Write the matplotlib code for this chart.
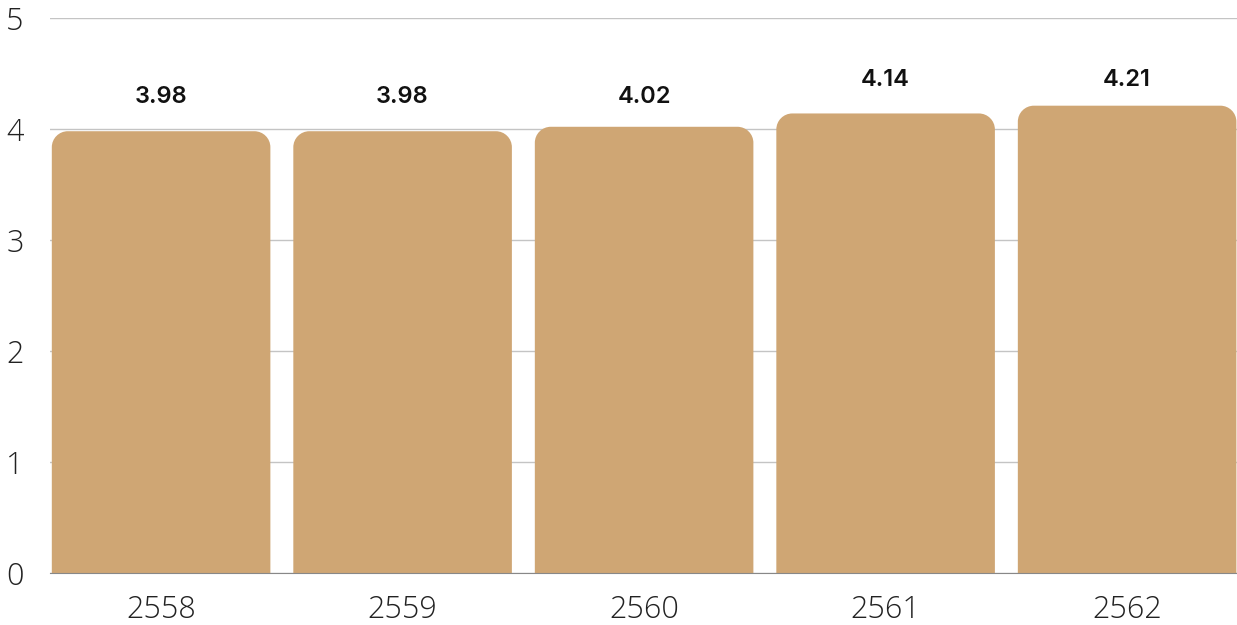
import matplotlib.pyplot as plt
from matplotlib.path import Path
from matplotlib.patches import PathPatch

years = ['2558', '2559', '2560', '2561', '2562']
values = [3.98, 3.98, 4.02, 4.14, 4.21]
value_labels = ['3.98', '3.98', '4.02', '4.14', '4.21']

bar_color = '#cfa674'
bar_width = 0.905
# label heights as seen in the original (labels snap to two rows)
label_y = [4.29, 4.29, 4.29, 4.44, 4.44]

fig = plt.figure(figsize=(12.37, 6.25), dpi=100)
ax = fig.add_axes([50 / 1237, 52 / 625, 1187 / 1237, 555 / 625])
ax.set_xlim(-0.46, 4.455)
ax.set_ylim(0, 5)

# rounded top corners, radius in data units (about 16 px)
rx = 16 / 241.5
ry = 16 / 111
k = 0.5523


def rounded_bar(x0, x1, h):
    verts = [
        (x0, 0), (x0, h - ry),
        (x0, h - ry + k * ry), (x0 + rx - k * rx, h), (x0 + rx, h),
        (x1 - rx, h),
        (x1 - rx + k * rx, h), (x1, h - ry + k * ry), (x1, h - ry),
        (x1, 0), (x0, 0),
    ]
    codes = [Path.MOVETO, Path.LINETO,
             Path.CURVE4, Path.CURVE4, Path.CURVE4,
             Path.LINETO,
             Path.CURVE4, Path.CURVE4, Path.CURVE4,
             Path.LINETO, Path.CLOSEPOLY]
    return Path(verts, codes)


for i, v in enumerate(values):
    p = rounded_bar(i - bar_width / 2, i + bar_width / 2, v)
    ax.add_patch(PathPatch(p, facecolor=bar_color, edgecolor='none', zorder=2))
    ax.text(i, label_y[i], value_labels[i], ha='center', va='center',
            fontsize=17, fontweight='semibold', family='Inter', color='#111111')

ax.set_yticks([0, 1, 2, 3, 4, 5])
ax.set_xticks(range(len(years)))
ax.set_xticklabels(years)
ax.grid(axis='y', color='#c4c4c4', linewidth=1, zorder=0)
ax.set_axisbelow(True)
for s in ['top', 'right', 'left']:
    ax.spines[s].set_visible(False)
ax.spines['bottom'].set_color('#888888')
ax.spines['bottom'].set_zorder(3)
ax.tick_params(length=0, labelsize=22, colors='#222222')
ax.tick_params(axis='y', pad=19)
ax.tick_params(axis='x', pad=15)
for lbl in ax.get_xticklabels() + ax.get_yticklabels():
    lbl.set_family('Open Sans')
    lbl.set_fontweight('light')

fig.savefig('out.png', dpi=100)
